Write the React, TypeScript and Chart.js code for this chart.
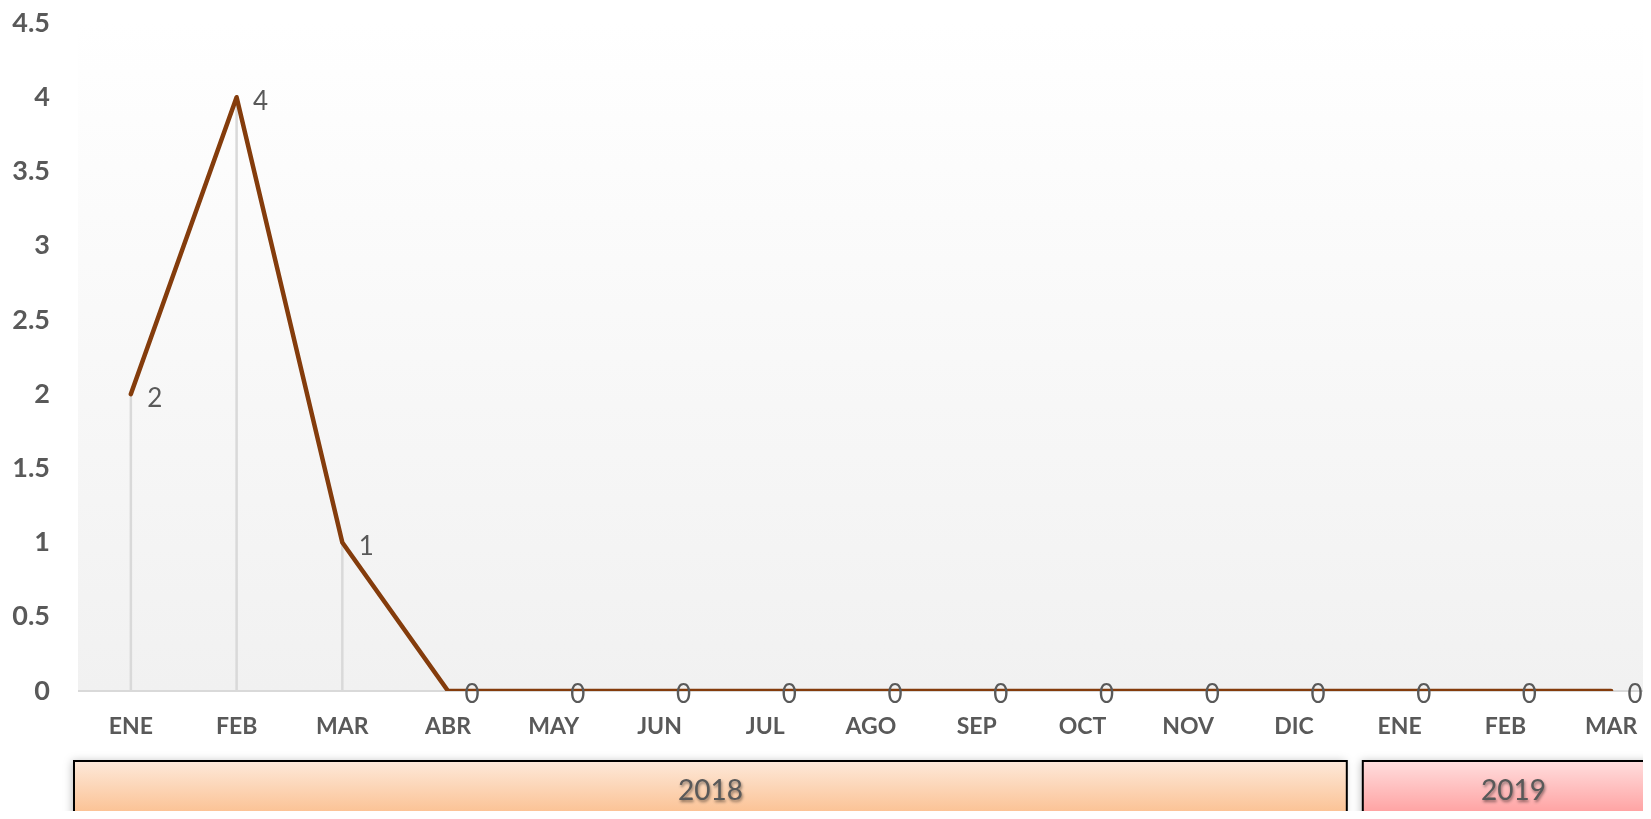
import React, { useEffect, useRef } from "react";
import { Chart, registerables } from "chart.js";

Chart.register(...registerables);

const categories = ["ENE", "FEB", "MAR", "ABR", "MAY", "JUN", "JUL", "AGO", "SEP", "OCT", "NOV", "DIC", "ENE", "FEB", "MAR"];
const values = [2, 4, 1, 0, 0, 0, 0, 0, 0, 0, 0, 0, 0, 0, 0];
const yearGroups = ["2018", "2019"];
const yearStart = [0, 12];
const yearEnd = [11, 14];
const yearColors = [
  ["#fde9da", "#fbbe8d"],
  ["#ffdede", "#ff9c9c"],
];

const FONT = "Lato, 'Open Sans', sans-serif";

const bgPlugin = {
  id: "plotBg",
  beforeDraw(chart: any) {
    const { ctx, chartArea } = chart;
    const g = ctx.createLinearGradient(0, chartArea.top, 0, chartArea.bottom);
    g.addColorStop(0, "#ffffff");
    g.addColorStop(1, "#f1f1f1");
    ctx.save();
    ctx.fillStyle = g;
    ctx.fillRect(chartArea.left, chartArea.top, chartArea.right - chartArea.left, chartArea.bottom - chartArea.top);
    ctx.restore();
  },
};

const dropPlugin = {
  id: "dropLines",
  beforeDatasetsDraw(chart: any) {
    const { ctx, chartArea } = chart;
    const meta = chart.getDatasetMeta(0);
    ctx.save();
    ctx.strokeStyle = "#d9d9d9";
    ctx.lineWidth = 2.5;
    meta.data.forEach((p: any) => {
      ctx.beginPath();
      ctx.moveTo(p.x, p.y);
      ctx.lineTo(p.x, chartArea.bottom);
      ctx.stroke();
    });
    ctx.strokeStyle = "#d9d9d9";
    ctx.lineWidth = 2;
    ctx.beginPath();
    ctx.moveTo(chartArea.left, chartArea.bottom);
    ctx.lineTo(chartArea.right, chartArea.bottom);
    ctx.stroke();
    ctx.restore();
  },
};

const labelPlugin = {
  id: "valueLabels",
  afterDatasetsDraw(chart: any) {
    const { ctx } = chart;
    const meta = chart.getDatasetMeta(0);
    ctx.save();
    ctx.fillStyle = "#595959";
    ctx.font = "26px " + FONT;
    ctx.textAlign = "center";
    ctx.textBaseline = "middle";
    meta.data.forEach((p: any, i: number) => {
      ctx.fillText(String(values[i]), p.x + 24, p.y + 4);
    });
    ctx.restore();
  },
};

const yearPlugin = {
  id: "yearBoxes",
  afterDraw(chart: any) {
    const { ctx } = chart;
    const xs = chart.scales.x;
    const half = (xs.getPixelForValue(1) - xs.getPixelForValue(0)) / 2;
    const top = chart.chartArea.bottom + 70;
    const bottom = top + 57;
    yearGroups.forEach((label, i) => {
      let left = xs.getPixelForValue(yearStart[i]) - half;
      const right = xs.getPixelForValue(yearEnd[i]) + half;
      if (i > 0) left += 16;
      else left -= 4;
      ctx.save();
      ctx.shadowColor = "rgba(0,0,0,0.25)";
      ctx.shadowBlur = 8;
      ctx.shadowOffsetX = -2;
      const g = ctx.createLinearGradient(0, top, 0, bottom);
      g.addColorStop(0, yearColors[i][0]);
      g.addColorStop(1, yearColors[i][1]);
      ctx.fillStyle = g;
      ctx.fillRect(left, top, right - left, bottom - top);
      ctx.restore();
      ctx.save();
      ctx.strokeStyle = "#000000";
      ctx.lineWidth = 2;
      ctx.strokeRect(left, top, right - left, bottom - top);
      ctx.fillStyle = "#595959";
      ctx.font = "28px " + FONT;
      ctx.textAlign = "center";
      ctx.textBaseline = "middle";
      ctx.shadowColor = "rgba(0,0,0,0.45)";
      ctx.shadowBlur = 3;
      ctx.shadowOffsetX = 1;
      ctx.shadowOffsetY = 2;
      ctx.fillText(label, (left + right) / 2, (top + bottom) / 2 + 1);
      ctx.restore();
    });
  },
};

export default function App() {
  const ref = useRef<HTMLCanvasElement>(null);
  useEffect(() => {
    if (!ref.current) return;
    const chart = new Chart(ref.current, {
      type: "line",
      data: {
        labels: categories,
        datasets: [
          {
            data: values,
            borderColor: "#843c0c",
            borderWidth: 4.5,
            pointRadius: 0,
            borderCapStyle: "round",
            borderJoinStyle: "round",
            tension: 0,
            fill: false,
          },
        ],
      },
      options: {
        responsive: false,
        animation: false,
        devicePixelRatio: 1,
        layout: { autoPadding: false, padding: { top: 23, right: 16, left: 0, bottom: 0 } },
        plugins: { legend: { display: false }, tooltip: { enabled: false } },
        scales: {
          x: {
            offset: true,
            grid: { display: false, drawTicks: false },
            border: { display: false },
            ticks: {
              color: "#595959",
              font: { family: FONT, size: 23, weight: "bold" },
              padding: 22,
              maxRotation: 0,
              autoSkip: false,
            },
            afterFit: (s: any) => {
              s.height = 128;
              s.paddingLeft = 0;
              s.paddingRight = 0;
            },
          },
          y: {
            min: 0,
            max: 4.5,
            grid: { display: false, drawTicks: false },
            border: { display: false },
            ticks: {
              stepSize: 0.5,
              color: "#595959",
              font: { family: FONT, size: 27, weight: "bold" },
              padding: 28,
              callback: (v: any) => String(Number(v)),
            },
            afterFit: (s: any) => {
              s.width = 78;
              s.paddingTop = 0;
              s.paddingBottom = 0;
            },
          },
        },
      },
      plugins: [bgPlugin, dropPlugin, labelPlugin, yearPlugin],
    });
    return () => chart.destroy();
  }, []);
  return (
    <div style={{ margin: -8, width: 1651, height: 819, overflow: "hidden", background: "#fff" }}>
      <canvas ref={ref} width={1680} height={819} style={{ display: "block" }} />
    </div>
  );
}
